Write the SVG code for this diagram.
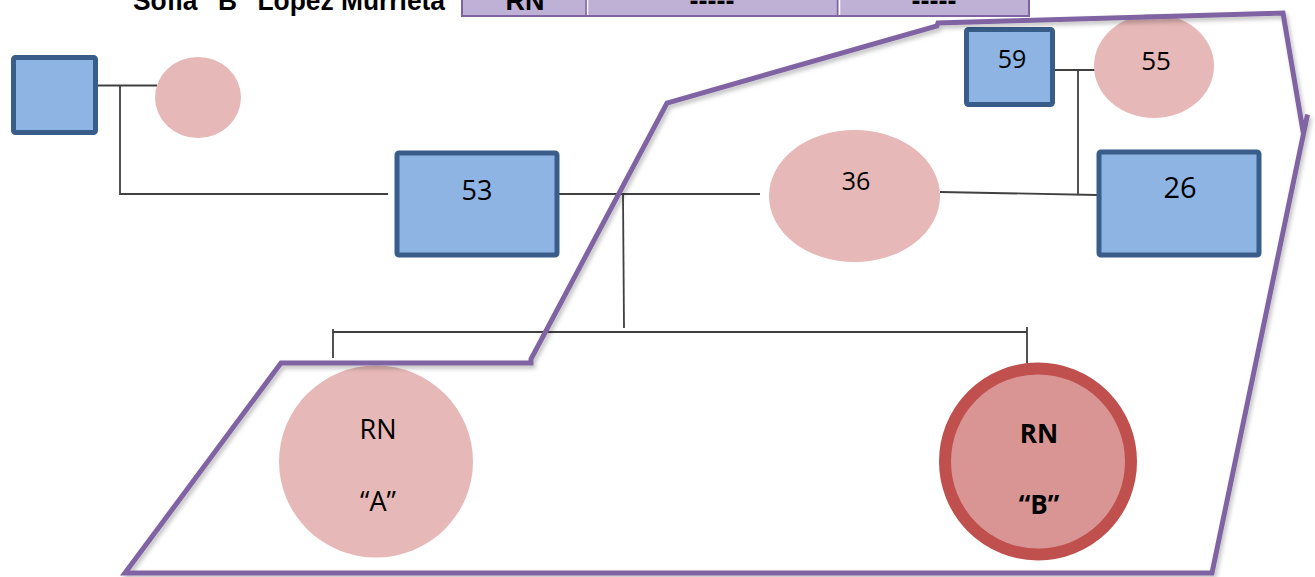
<svg xmlns="http://www.w3.org/2000/svg" width="1315" height="577" viewBox="0 0 1315 577">
<style>
.sq{fill:#8EB4E3;stroke:#385D8A;stroke-width:5}
.el{fill:#E6B8B7}
.lbl{font-family:"Open Sans","Noto Sans","Liberation Sans",sans-serif;fill:#000;text-anchor:middle}
.con{stroke:#404040;stroke-width:1.8;fill:none}
.pur{stroke:#8064A2;stroke-width:5;fill:none;stroke-linejoin:miter;stroke-linecap:square}
.cell{fill:#BFB1D5}
.ttl{font-family:"Liberation Sans",Arial,sans-serif;font-weight:bold;font-size:27px;fill:#000}
</style>
<defs>
<filter id="sh" x="-5%" y="-5%" width="110%" height="110%">
<feDropShadow dx="2" dy="3" stdDeviation="2" flood-color="#000" flood-opacity="0.25"/>
</filter>
</defs>
<rect width="1315" height="577" fill="#fff"/>

<g id="header">
<text class="ttl" x="133" y="10" textLength="312" lengthAdjust="spacingAndGlyphs">Sofía “B” López Murrieta</text>
<rect class="cell" x="462" y="-2" width="567" height="18"/>
<line x1="587.5" y1="-2" x2="587.5" y2="16" stroke="#fff" stroke-width="1.5"/>
<line x1="839.5" y1="-2" x2="839.5" y2="16" stroke="#fff" stroke-width="1.5"/>
<line x1="586" y1="-2" x2="586" y2="16" stroke="#8064A2" stroke-width="1.5"/>
<line x1="837.5" y1="-2" x2="837.5" y2="16" stroke="#8064A2" stroke-width="1.5"/>
<polyline points="462,-2 462,16 1029,16 1029,-2" fill="none" stroke="#8064A2" stroke-width="2"/>
<text class="ttl" x="525" y="10" text-anchor="middle">RN</text>
<text class="ttl" x="712" y="10" text-anchor="middle">-----</text>
<text class="ttl" x="934" y="10" text-anchor="middle">-----</text>
</g>

<g id="connectors">
<polyline class="con" points="98,85.5 157,85.5"/>
<polyline class="con" points="120,85.5 120,194 388,194"/>
<polyline class="con" points="559,194 760,194"/>
<polyline class="con" points="623,194 624,328"/>
<polyline class="con" points="333,358 333,329 333,332 1027,332"/>
<polyline class="con" points="1027,327 1027,363"/>
<polyline class="con" points="940,192 1097,195"/>
<polyline class="con" points="1054,70 1098,70"/>
<polyline class="con" points="1078,70 1078,194"/>
</g>

<g id="node-topleft">
<rect class="sq" x="13.5" y="57.5" width="82" height="75" rx="2"/>
</g>
<g id="node-topleft-circle">
<ellipse class="el" cx="198" cy="97.5" rx="43" ry="40.5"/>
</g>
<g id="node-53">
<rect class="sq" x="397" y="153" width="160" height="102" rx="2"/>
<text class="lbl" x="477" y="200" font-size="27">53</text>
</g>
<g id="node-36">
<ellipse class="el" cx="854.5" cy="196" rx="85.5" ry="66"/>
<text class="lbl" x="856" y="190" font-size="25">36</text>
</g>
<g id="node-59">
<rect class="sq" x="966.5" y="29.5" width="86" height="75" rx="2"/>
<text class="lbl" x="1012" y="68" font-size="25">59</text>
</g>
<g id="node-55">
<ellipse class="el" cx="1154" cy="66" rx="60" ry="52"/>
<text class="lbl" x="1156" y="70" font-size="26">55</text>
</g>
<g id="node-26">
<rect class="sq" x="1099" y="152" width="160" height="103" rx="2"/>
<text class="lbl" x="1180" y="198" font-size="29">26</text>
</g>
<g id="node-A">
<ellipse class="el" cx="376" cy="461.5" rx="97" ry="96"/>
<text class="lbl" x="378" y="439" font-size="27">RN</text>
<text class="lbl" x="378" y="511" font-size="27">“A”</text>
</g>
<g id="node-B">
<circle cx="1038" cy="461.5" r="93" fill="#D99594" stroke="#C0504D" stroke-width="12"/>
<text class="lbl" x="1039" y="443" font-size="26" font-weight="bold">RN</text>
<text class="lbl" x="1039" y="514" font-size="26" font-weight="bold">“B”</text>
</g>

<g id="boundary" filter="url(#sh)">
<polyline class="pur" points="1303,131 1283,13 938,23 937,26 667,103 531,359 531,363 281,363 125,573 1212,573 1307,117"/>
</g>
</svg>
